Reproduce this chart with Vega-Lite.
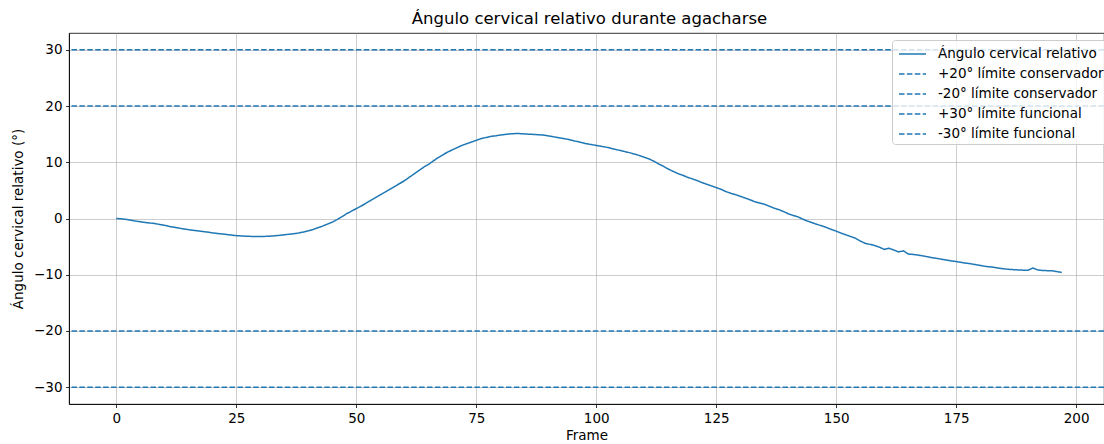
{
  "$schema": "https://vega.github.io/schema/vega-lite/v6.json",
  "autosize": {"type": "none"},
  "padding": {"left": 69, "top": 33, "right": 0, "bottom": 40},
  "width": 1035,
  "height": 371,
  "background": "white",
  "title": {"text": "Ángulo cervical relativo durante agacharse", "font": "DejaVu Sans", "fontSize": 16.5, "fontWeight": "normal", "color": "black", "offset": 6, "dx": 3},
  "config": {
    "font": "DejaVu Sans",
    "view": {"stroke": "black", "strokeWidth": 0.8},
    "axis": {
      "labelFont": "DejaVu Sans", "labelFontSize": 13.5, "labelColor": "black",
      "titleFont": "DejaVu Sans", "titleFontSize": 13.5, "titleFontWeight": "normal", "titleColor": "black",
      "domainColor": "black", "domainWidth": 0.8,
      "tickColor": "black", "tickWidth": 0.8, "tickSize": 3.5,
      "labelPadding": 3.5,
      "grid": true, "gridColor": "#b0b0b0", "gridWidth": 0.8, "gridOpacity": 0.8
    }
  },
  "layer": [
    {
      "data": {"values": [
        {"frame": 0, "angulo": 0.0, "serie": "Ángulo cervical relativo"},
        {"frame": 1, "angulo": -0.05, "serie": "Ángulo cervical relativo"},
        {"frame": 2, "angulo": -0.15, "serie": "Ángulo cervical relativo"},
        {"frame": 3, "angulo": -0.3, "serie": "Ángulo cervical relativo"},
        {"frame": 4, "angulo": -0.45, "serie": "Ángulo cervical relativo"},
        {"frame": 5, "angulo": -0.58, "serie": "Ángulo cervical relativo"},
        {"frame": 6, "angulo": -0.7, "serie": "Ángulo cervical relativo"},
        {"frame": 7, "angulo": -0.8, "serie": "Ángulo cervical relativo"},
        {"frame": 8, "angulo": -0.9, "serie": "Ángulo cervical relativo"},
        {"frame": 9, "angulo": -1.05, "serie": "Ángulo cervical relativo"},
        {"frame": 10, "angulo": -1.2, "serie": "Ángulo cervical relativo"},
        {"frame": 11, "angulo": -1.4, "serie": "Ángulo cervical relativo"},
        {"frame": 12, "angulo": -1.55, "serie": "Ángulo cervical relativo"},
        {"frame": 13, "angulo": -1.7, "serie": "Ángulo cervical relativo"},
        {"frame": 14, "angulo": -1.85, "serie": "Ángulo cervical relativo"},
        {"frame": 15, "angulo": -1.98, "serie": "Ángulo cervical relativo"},
        {"frame": 16, "angulo": -2.1, "serie": "Ángulo cervical relativo"},
        {"frame": 17, "angulo": -2.2, "serie": "Ángulo cervical relativo"},
        {"frame": 18, "angulo": -2.3, "serie": "Ángulo cervical relativo"},
        {"frame": 19, "angulo": -2.42, "serie": "Ángulo cervical relativo"},
        {"frame": 20, "angulo": -2.55, "serie": "Ángulo cervical relativo"},
        {"frame": 21, "angulo": -2.65, "serie": "Ángulo cervical relativo"},
        {"frame": 22, "angulo": -2.75, "serie": "Ángulo cervical relativo"},
        {"frame": 23, "angulo": -2.85, "serie": "Ángulo cervical relativo"},
        {"frame": 24, "angulo": -2.95, "serie": "Ángulo cervical relativo"},
        {"frame": 25, "angulo": -3.05, "serie": "Ángulo cervical relativo"},
        {"frame": 26, "angulo": -3.1, "serie": "Ángulo cervical relativo"},
        {"frame": 27, "angulo": -3.15, "serie": "Ángulo cervical relativo"},
        {"frame": 28, "angulo": -3.18, "serie": "Ángulo cervical relativo"},
        {"frame": 29, "angulo": -3.2, "serie": "Ángulo cervical relativo"},
        {"frame": 30, "angulo": -3.2, "serie": "Ángulo cervical relativo"},
        {"frame": 31, "angulo": -3.18, "serie": "Ángulo cervical relativo"},
        {"frame": 32, "angulo": -3.15, "serie": "Ángulo cervical relativo"},
        {"frame": 33, "angulo": -3.08, "serie": "Ángulo cervical relativo"},
        {"frame": 34, "angulo": -3.0, "serie": "Ángulo cervical relativo"},
        {"frame": 35, "angulo": -2.9, "serie": "Ángulo cervical relativo"},
        {"frame": 36, "angulo": -2.8, "serie": "Ángulo cervical relativo"},
        {"frame": 37, "angulo": -2.7, "serie": "Ángulo cervical relativo"},
        {"frame": 38, "angulo": -2.58, "serie": "Ángulo cervical relativo"},
        {"frame": 39, "angulo": -2.4, "serie": "Ángulo cervical relativo"},
        {"frame": 40, "angulo": -2.2, "serie": "Ángulo cervical relativo"},
        {"frame": 41, "angulo": -1.95, "serie": "Ángulo cervical relativo"},
        {"frame": 42, "angulo": -1.65, "serie": "Ángulo cervical relativo"},
        {"frame": 43, "angulo": -1.35, "serie": "Ángulo cervical relativo"},
        {"frame": 44, "angulo": -1.0, "serie": "Ángulo cervical relativo"},
        {"frame": 45, "angulo": -0.65, "serie": "Ángulo cervical relativo"},
        {"frame": 46, "angulo": -0.2, "serie": "Ángulo cervical relativo"},
        {"frame": 47, "angulo": 0.3, "serie": "Ángulo cervical relativo"},
        {"frame": 48, "angulo": 0.85, "serie": "Ángulo cervical relativo"},
        {"frame": 49, "angulo": 1.3, "serie": "Ángulo cervical relativo"},
        {"frame": 50, "angulo": 1.75, "serie": "Ángulo cervical relativo"},
        {"frame": 51, "angulo": 2.2, "serie": "Ángulo cervical relativo"},
        {"frame": 52, "angulo": 2.7, "serie": "Ángulo cervical relativo"},
        {"frame": 53, "angulo": 3.2, "serie": "Ángulo cervical relativo"},
        {"frame": 54, "angulo": 3.7, "serie": "Ángulo cervical relativo"},
        {"frame": 55, "angulo": 4.2, "serie": "Ángulo cervical relativo"},
        {"frame": 56, "angulo": 4.7, "serie": "Ángulo cervical relativo"},
        {"frame": 57, "angulo": 5.2, "serie": "Ángulo cervical relativo"},
        {"frame": 58, "angulo": 5.7, "serie": "Ángulo cervical relativo"},
        {"frame": 59, "angulo": 6.2, "serie": "Ángulo cervical relativo"},
        {"frame": 60, "angulo": 6.7, "serie": "Ángulo cervical relativo"},
        {"frame": 61, "angulo": 7.3, "serie": "Ángulo cervical relativo"},
        {"frame": 62, "angulo": 7.9, "serie": "Ángulo cervical relativo"},
        {"frame": 63, "angulo": 8.5, "serie": "Ángulo cervical relativo"},
        {"frame": 64, "angulo": 9.1, "serie": "Ángulo cervical relativo"},
        {"frame": 65, "angulo": 9.6, "serie": "Ángulo cervical relativo"},
        {"frame": 66, "angulo": 10.2, "serie": "Ángulo cervical relativo"},
        {"frame": 67, "angulo": 10.8, "serie": "Ángulo cervical relativo"},
        {"frame": 68, "angulo": 11.3, "serie": "Ángulo cervical relativo"},
        {"frame": 69, "angulo": 11.8, "serie": "Ángulo cervical relativo"},
        {"frame": 70, "angulo": 12.2, "serie": "Ángulo cervical relativo"},
        {"frame": 71, "angulo": 12.6, "serie": "Ángulo cervical relativo"},
        {"frame": 72, "angulo": 13.0, "serie": "Ángulo cervical relativo"},
        {"frame": 73, "angulo": 13.3, "serie": "Ángulo cervical relativo"},
        {"frame": 74, "angulo": 13.6, "serie": "Ángulo cervical relativo"},
        {"frame": 75, "angulo": 13.9, "serie": "Ángulo cervical relativo"},
        {"frame": 76, "angulo": 14.2, "serie": "Ángulo cervical relativo"},
        {"frame": 77, "angulo": 14.4, "serie": "Ángulo cervical relativo"},
        {"frame": 78, "angulo": 14.6, "serie": "Ángulo cervical relativo"},
        {"frame": 79, "angulo": 14.7, "serie": "Ángulo cervical relativo"},
        {"frame": 80, "angulo": 14.85, "serie": "Ángulo cervical relativo"},
        {"frame": 81, "angulo": 14.95, "serie": "Ángulo cervical relativo"},
        {"frame": 82, "angulo": 15.05, "serie": "Ángulo cervical relativo"},
        {"frame": 83, "angulo": 15.1, "serie": "Ángulo cervical relativo"},
        {"frame": 84, "angulo": 15.1, "serie": "Ángulo cervical relativo"},
        {"frame": 85, "angulo": 15.05, "serie": "Ángulo cervical relativo"},
        {"frame": 86, "angulo": 15.0, "serie": "Ángulo cervical relativo"},
        {"frame": 87, "angulo": 14.95, "serie": "Ángulo cervical relativo"},
        {"frame": 88, "angulo": 14.9, "serie": "Ángulo cervical relativo"},
        {"frame": 89, "angulo": 14.85, "serie": "Ángulo cervical relativo"},
        {"frame": 90, "angulo": 14.7, "serie": "Ángulo cervical relativo"},
        {"frame": 91, "angulo": 14.55, "serie": "Ángulo cervical relativo"},
        {"frame": 92, "angulo": 14.4, "serie": "Ángulo cervical relativo"},
        {"frame": 93, "angulo": 14.25, "serie": "Ángulo cervical relativo"},
        {"frame": 94, "angulo": 14.1, "serie": "Ángulo cervical relativo"},
        {"frame": 95, "angulo": 13.9, "serie": "Ángulo cervical relativo"},
        {"frame": 96, "angulo": 13.7, "serie": "Ángulo cervical relativo"},
        {"frame": 97, "angulo": 13.5, "serie": "Ángulo cervical relativo"},
        {"frame": 98, "angulo": 13.3, "serie": "Ángulo cervical relativo"},
        {"frame": 99, "angulo": 13.15, "serie": "Ángulo cervical relativo"},
        {"frame": 100, "angulo": 13.0, "serie": "Ángulo cervical relativo"},
        {"frame": 101, "angulo": 12.85, "serie": "Ángulo cervical relativo"},
        {"frame": 102, "angulo": 12.7, "serie": "Ángulo cervical relativo"},
        {"frame": 103, "angulo": 12.5, "serie": "Ángulo cervical relativo"},
        {"frame": 104, "angulo": 12.3, "serie": "Ángulo cervical relativo"},
        {"frame": 105, "angulo": 12.1, "serie": "Ángulo cervical relativo"},
        {"frame": 106, "angulo": 11.9, "serie": "Ángulo cervical relativo"},
        {"frame": 107, "angulo": 11.7, "serie": "Ángulo cervical relativo"},
        {"frame": 108, "angulo": 11.45, "serie": "Ángulo cervical relativo"},
        {"frame": 109, "angulo": 11.2, "serie": "Ángulo cervical relativo"},
        {"frame": 110, "angulo": 10.9, "serie": "Ángulo cervical relativo"},
        {"frame": 111, "angulo": 10.6, "serie": "Ángulo cervical relativo"},
        {"frame": 112, "angulo": 10.2, "serie": "Ángulo cervical relativo"},
        {"frame": 113, "angulo": 9.7, "serie": "Ángulo cervical relativo"},
        {"frame": 114, "angulo": 9.3, "serie": "Ángulo cervical relativo"},
        {"frame": 115, "angulo": 8.8, "serie": "Ángulo cervical relativo"},
        {"frame": 116, "angulo": 8.4, "serie": "Ángulo cervical relativo"},
        {"frame": 117, "angulo": 8.0, "serie": "Ángulo cervical relativo"},
        {"frame": 118, "angulo": 7.7, "serie": "Ángulo cervical relativo"},
        {"frame": 119, "angulo": 7.35, "serie": "Ángulo cervical relativo"},
        {"frame": 120, "angulo": 7.05, "serie": "Ángulo cervical relativo"},
        {"frame": 121, "angulo": 6.75, "serie": "Ángulo cervical relativo"},
        {"frame": 122, "angulo": 6.4, "serie": "Ángulo cervical relativo"},
        {"frame": 123, "angulo": 6.1, "serie": "Ángulo cervical relativo"},
        {"frame": 124, "angulo": 5.8, "serie": "Ángulo cervical relativo"},
        {"frame": 125, "angulo": 5.5, "serie": "Ángulo cervical relativo"},
        {"frame": 126, "angulo": 5.2, "serie": "Ángulo cervical relativo"},
        {"frame": 127, "angulo": 4.8, "serie": "Ángulo cervical relativo"},
        {"frame": 128, "angulo": 4.5, "serie": "Ángulo cervical relativo"},
        {"frame": 129, "angulo": 4.25, "serie": "Ángulo cervical relativo"},
        {"frame": 130, "angulo": 3.95, "serie": "Ángulo cervical relativo"},
        {"frame": 131, "angulo": 3.65, "serie": "Ángulo cervical relativo"},
        {"frame": 132, "angulo": 3.35, "serie": "Ángulo cervical relativo"},
        {"frame": 133, "angulo": 3.0, "serie": "Ángulo cervical relativo"},
        {"frame": 134, "angulo": 2.75, "serie": "Ángulo cervical relativo"},
        {"frame": 135, "angulo": 2.55, "serie": "Ángulo cervical relativo"},
        {"frame": 136, "angulo": 2.2, "serie": "Ángulo cervical relativo"},
        {"frame": 137, "angulo": 1.85, "serie": "Ángulo cervical relativo"},
        {"frame": 138, "angulo": 1.6, "serie": "Ángulo cervical relativo"},
        {"frame": 139, "angulo": 1.25, "serie": "Ángulo cervical relativo"},
        {"frame": 140, "angulo": 0.85, "serie": "Ángulo cervical relativo"},
        {"frame": 141, "angulo": 0.55, "serie": "Ángulo cervical relativo"},
        {"frame": 142, "angulo": 0.3, "serie": "Ángulo cervical relativo"},
        {"frame": 143, "angulo": -0.1, "serie": "Ángulo cervical relativo"},
        {"frame": 144, "angulo": -0.45, "serie": "Ángulo cervical relativo"},
        {"frame": 145, "angulo": -0.75, "serie": "Ángulo cervical relativo"},
        {"frame": 146, "angulo": -1.05, "serie": "Ángulo cervical relativo"},
        {"frame": 147, "angulo": -1.3, "serie": "Ángulo cervical relativo"},
        {"frame": 148, "angulo": -1.6, "serie": "Ángulo cervical relativo"},
        {"frame": 149, "angulo": -1.95, "serie": "Ángulo cervical relativo"},
        {"frame": 150, "angulo": -2.25, "serie": "Ángulo cervical relativo"},
        {"frame": 151, "angulo": -2.6, "serie": "Ángulo cervical relativo"},
        {"frame": 152, "angulo": -2.9, "serie": "Ángulo cervical relativo"},
        {"frame": 153, "angulo": -3.2, "serie": "Ángulo cervical relativo"},
        {"frame": 154, "angulo": -3.5, "serie": "Ángulo cervical relativo"},
        {"frame": 155, "angulo": -4.0, "serie": "Ángulo cervical relativo"},
        {"frame": 156, "angulo": -4.4, "serie": "Ángulo cervical relativo"},
        {"frame": 157, "angulo": -4.6, "serie": "Ángulo cervical relativo"},
        {"frame": 158, "angulo": -4.8, "serie": "Ángulo cervical relativo"},
        {"frame": 159, "angulo": -5.1, "serie": "Ángulo cervical relativo"},
        {"frame": 160, "angulo": -5.5, "serie": "Ángulo cervical relativo"},
        {"frame": 161, "angulo": -5.3, "serie": "Ángulo cervical relativo"},
        {"frame": 162, "angulo": -5.6, "serie": "Ángulo cervical relativo"},
        {"frame": 163, "angulo": -5.95, "serie": "Ángulo cervical relativo"},
        {"frame": 164, "angulo": -5.75, "serie": "Ángulo cervical relativo"},
        {"frame": 165, "angulo": -6.3, "serie": "Ángulo cervical relativo"},
        {"frame": 166, "angulo": -6.4, "serie": "Ángulo cervical relativo"},
        {"frame": 167, "angulo": -6.5, "serie": "Ángulo cervical relativo"},
        {"frame": 168, "angulo": -6.65, "serie": "Ángulo cervical relativo"},
        {"frame": 169, "angulo": -6.8, "serie": "Ángulo cervical relativo"},
        {"frame": 170, "angulo": -6.97, "serie": "Ángulo cervical relativo"},
        {"frame": 171, "angulo": -7.1, "serie": "Ángulo cervical relativo"},
        {"frame": 172, "angulo": -7.25, "serie": "Ángulo cervical relativo"},
        {"frame": 173, "angulo": -7.4, "serie": "Ángulo cervical relativo"},
        {"frame": 174, "angulo": -7.55, "serie": "Ángulo cervical relativo"},
        {"frame": 175, "angulo": -7.65, "serie": "Ángulo cervical relativo"},
        {"frame": 176, "angulo": -7.8, "serie": "Ángulo cervical relativo"},
        {"frame": 177, "angulo": -7.95, "serie": "Ángulo cervical relativo"},
        {"frame": 178, "angulo": -8.05, "serie": "Ángulo cervical relativo"},
        {"frame": 179, "angulo": -8.2, "serie": "Ángulo cervical relativo"},
        {"frame": 180, "angulo": -8.35, "serie": "Ángulo cervical relativo"},
        {"frame": 181, "angulo": -8.5, "serie": "Ángulo cervical relativo"},
        {"frame": 182, "angulo": -8.6, "serie": "Ángulo cervical relativo"},
        {"frame": 183, "angulo": -8.7, "serie": "Ángulo cervical relativo"},
        {"frame": 184, "angulo": -8.85, "serie": "Ángulo cervical relativo"},
        {"frame": 185, "angulo": -8.95, "serie": "Ángulo cervical relativo"},
        {"frame": 186, "angulo": -9.05, "serie": "Ángulo cervical relativo"},
        {"frame": 187, "angulo": -9.1, "serie": "Ángulo cervical relativo"},
        {"frame": 188, "angulo": -9.15, "serie": "Ángulo cervical relativo"},
        {"frame": 189, "angulo": -9.2, "serie": "Ángulo cervical relativo"},
        {"frame": 190, "angulo": -9.2, "serie": "Ángulo cervical relativo"},
        {"frame": 191, "angulo": -8.8, "serie": "Ángulo cervical relativo"},
        {"frame": 192, "angulo": -9.15, "serie": "Ángulo cervical relativo"},
        {"frame": 193, "angulo": -9.25, "serie": "Ángulo cervical relativo"},
        {"frame": 194, "angulo": -9.28, "serie": "Ángulo cervical relativo"},
        {"frame": 195, "angulo": -9.3, "serie": "Ángulo cervical relativo"},
        {"frame": 196, "angulo": -9.45, "serie": "Ángulo cervical relativo"},
        {"frame": 197, "angulo": -9.6, "serie": "Ángulo cervical relativo"}
      ]},
      "mark": {"type": "line", "strokeWidth": 1.5},
      "encoding": {
        "x": {"field": "frame", "type": "quantitative", "title": "Frame",
              "scale": {"domain": [-9.85, 205.8], "nice": false, "zero": false},
              "axis": {"values": [0, 25, 50, 75, 100, 125, 150, 175, 200], "format": "d", "titlePadding": 4}},
        "y": {"field": "angulo", "type": "quantitative", "title": "Ángulo cervical relativo (°)",
              "scale": {"domain": [-33, 33], "nice": false, "zero": false},
              "axis": {"values": [-30, -20, -10, 0, 10, 20, 30], "format": "d", "titlePadding": 8}},
        "color": {"field": "serie", "type": "nominal"},
        "strokeDash": {"field": "serie", "type": "nominal"}
      }
    },
    {
      "data": {"values": [
        {"serie": "+20° límite conservador", "valor": 20},
        {"serie": "-20° límite conservador", "valor": -20},
        {"serie": "+30° límite funcional", "valor": 30},
        {"serie": "-30° límite funcional", "valor": -30}
      ]},
      "mark": {"type": "rule", "strokeWidth": 1.5},
      "encoding": {
        "y": {"field": "valor", "type": "quantitative"},
        "color": {"field": "serie", "type": "nominal",
                  "scale": {"domain": ["Ángulo cervical relativo", "+20° límite conservador", "-20° límite conservador", "+30° límite funcional", "-30° límite funcional"],
                            "range": ["#1f77b4", "#1f77b4", "#1f77b4", "#1f77b4", "#1f77b4"]},
                  "legend": {"title": null, "orient": "none", "legendX": 823, "legendY": 7,
                             "symbolType": "M-0.7,0H2", "symbolSize": 400, "symbolStrokeWidth": 1.5,
                             "labelFont": "DejaVu Sans", "labelFontSize": 13.5, "labelColor": "black",
                             "labelOffset": 21, "rowPadding": 2,
                             "padding": 3, "fillColor": "rgba(255,255,255,0.8)", "strokeColor": "#cccccc", "cornerRadius": 3, "labelLimit": 300}},
        "strokeDash": {"field": "serie", "type": "nominal",
                  "scale": {"domain": ["Ángulo cervical relativo", "+20° límite conservador", "-20° límite conservador", "+30° límite funcional", "-30° límite funcional"],
                            "range": [[1, 0], [5.5, 2.4], [5.5, 2.4], [5.5, 2.4], [5.5, 2.4]]},
                  "legend": {"title": null, "orient": "none", "legendX": 823, "legendY": 7,
                             "symbolType": "M-0.7,0H2", "symbolSize": 400, "symbolStrokeWidth": 1.5,
                             "labelFont": "DejaVu Sans", "labelFontSize": 13.5, "labelColor": "black",
                             "labelOffset": 21, "rowPadding": 2,
                             "padding": 3, "fillColor": "rgba(255,255,255,0.8)", "strokeColor": "#cccccc", "cornerRadius": 3, "labelLimit": 300}}
      }
    }
  ]
}
